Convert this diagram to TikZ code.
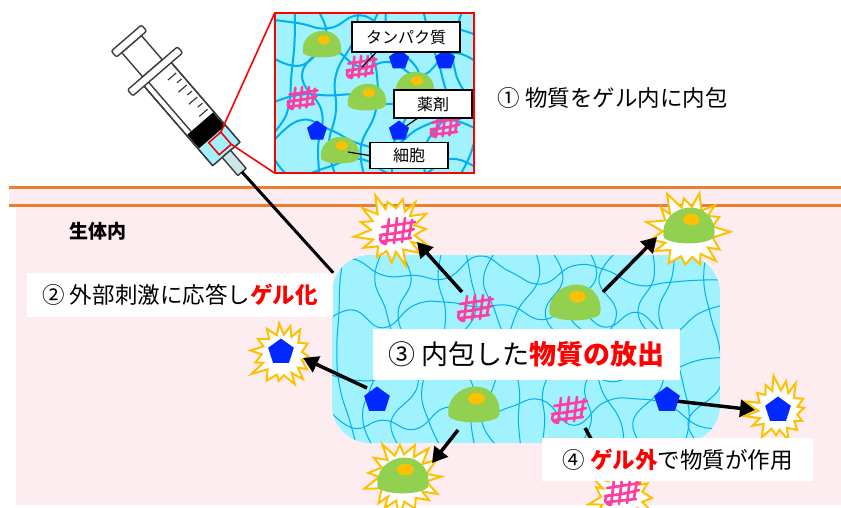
\documentclass[tikz,border=0pt]{standalone}
\usepackage{fontspec}
\setmainfont{Noto Sans CJK JP}
\usetikzlibrary{arrows.meta,shapes.geometric}
\definecolor{skinline}{RGB}{237,125,49}
\definecolor{bodypink}{RGB}{253,236,240}
\definecolor{gelcyan}{RGB}{160,242,255}
\definecolor{fibreblue}{RGB}{0,176,240}
\definecolor{cellgreen}{RGB}{146,208,80}
\definecolor{nucleus}{RGB}{255,192,0}
\definecolor{protpink}{RGB}{255,60,160}
\definecolor{drugblue}{RGB}{0,40,255}
\definecolor{flash}{RGB}{255,192,0}
\definecolor{hubgrey}{RGB}{205,228,232}
\definecolor{steel}{RGB}{60,60,60}
\definecolor{alert}{RGB}{255,0,0}

\begin{document}
\begin{tikzpicture}[x=1pt,y=-1pt,
  fiber/.style={fibreblue,line width=1pt},
  release/.style={line width=3.5pt,-{Triangle[length=15pt,width=17pt]}},
  drug/.style={regular polygon,regular polygon sides=5,fill=drugblue,inner sep=0pt,minimum size=27pt},
  banner/.style={fill=white,inner sep=0pt,font=\fontsize{22.5}{26}\selectfont},
  namebox/.style={draw,fill=white,line width=1.2pt,inner sep=0pt,font=\fontsize{16}{18}\selectfont},
  syr/.style={draw=steel,line width=1.4pt,fill=white,line join=round},
  lensline/.style={red,line width=1.6pt},
  cell/.pic={
    \fill[cellgreen] (-21,8) .. controls (-24,-6) and (-12,-17) .. (1,-17)
      .. controls (15,-17) and (23,-6) .. (21,7) .. controls (18,14) and (-14,15) .. (-21,8) -- cycle;
    \fill[nucleus] (2,-7) ellipse [x radius=7,y radius=4.8];},
  protein/.pic={
    \draw[protpink,line width=2.6pt,line cap=round,line join=round]
      (-16,-4) -- (17,-9) (-18,4) .. controls (-6,3) and (6,1) .. (16,-2) (-15,10) -- (13,7)
      (-9,-12) -- (-12,13) (-1,-13) -- (-4,12) (7,-13) -- (4,11) (14,-11) -- (11,6)
      (-12,13) .. controls (-19,12) and (-20,6) .. (-14,3);},
  burst/.pic={
    \filldraw[fill=white,draw=flash,line width=2pt]
      plot[samples=30,domain=0:29,variable=\q]
      ({\q*12+4*rand}:{#1*(0.7+0.15*cos(180*\q)+(1+cos(180*\q))*0.075*rand)}) -- cycle;}
]
\pgfmathsetseed{11}
\useasboundingbox (0,0) rectangle (841,507);

\fill[bodypink] (9,187) rectangle (841,205);
\fill[bodypink] (16,205) rectangle (841,505);
\draw[skinline,line width=3pt] (9,187) -- (841,187) (9,205) -- (841,205);

\begin{scope}
  \clip[rounded corners=38] (332,255) rectangle (720,443);
  \fill[gelcyan] (332,255) rectangle (720,443);
  \foreach \x in {346,376,...,716}
    \draw[fiber] plot[smooth,tension=0.8,variable=\t,domain=240:460,samples=7] ({\x+18*rand},\t);
  \foreach \y in {270,318,...,440}
    \draw[fiber] plot[smooth,tension=0.8,variable=\t,domain=320:732,samples=14] (\t,{\y+16*rand});
\end{scope}

\coordinate (protA) at (476,308);
\coordinate (cellB) at (575,305);
\coordinate (cellC) at (474,407);
\coordinate (protD) at (570,410);
\coordinate (siteE) at (377,400);
\coordinate (siteF) at (667,400);
\coordinate (outTL) at (393,230);
\coordinate (outTR) at (688,232);
\coordinate (outL) at (282,355);
\coordinate (outR) at (778,410);
\coordinate (outBL) at (403,478);
\coordinate (outB) at (622,497);

\pic at (outTL) {burst=40};
\pic at (outTR) {burst=46};
\pic at (outL) {burst=37};
\pic at (outR) {burst=36};
\pic at (outBL) {burst=43};
\pic at (outB) {burst=38};

\draw[release] ([shift={(-14,-16)}]protA) -- ([shift={(24,12)}]outTL);
\draw[release] ([shift={(28,-13)}]cellB) -- ([shift={(-31,5)}]outTR);
\draw[release] ([shift={(-10,-12)}]siteE) -- ([shift={(21,3)}]outL);
\draw[release] (siteF) -- ([shift={(-23,0)}]outR);
\draw[release] ([shift={(-16,23)}]cellC) -- ([shift={(29,-15)}]outBL);
\draw[release] ([shift={(15,18)}]protD) -- ([shift={(-18,-35)}]outB);

\pic at (protA) {protein};
\pic[scale=1.2] at (cellB) {cell};
\pic[scale=1.2] at (cellC) {cell};
\pic at (protD) {protein};
\node[drug] (drugE) at (siteE) {};
\node[drug] (drugF) at (siteF) {};
\pic at ([shift={(5,1)}]outTL) {protein};
\pic[scale=1.2] at ([shift={(1,-4)}]outTR) {cell};
\node[drug] (drugL) at ([shift={(-1,-3)}]outL) {};
\node[drug] (drugR) at (outR) {};
\pic[scale=1.2] at (outBL) {cell};
\pic at ([shift={(1,-5)}]outB) {protein};

\node[font=\fontsize{19}{21}\selectfont\bfseries] (lblBody) at (98,231) {生体内};
\node[banner,minimum width=306pt,minimum height=44pt] (lblGel) at (180,295)
  {② 外部刺激に応答し{\color{alert}\bfseries ゲル化}};
\node[banner,minimum width=307pt,minimum height=51pt,font=\fontsize{27}{31}\selectfont] (lblRel) at (526.5,354.5)
  {③ 内包した{\color{alert}\bfseries 物質の放出}};
\node[banner,minimum width=271pt,minimum height=43pt] (lblAct) at (677.5,459.5)
  {④ {\color{alert}\bfseries ゲル外}で物質が作用};

\begin{scope}[shift={(242,172)},rotate=130.8]
  \draw[syr] (137,-13) rectangle (169,13);
  \draw[syr,rounded corners=2pt] (169,-20) rectangle (177,20);
  \draw[syr] (24,-18) rectangle (131,18);
  \fill[gelcyan] (24,-17) rectangle (46,17);
  \fill[black] (46,-17) rectangle (64,17);
  \draw[steel,line width=1.4pt] (64,-12) -- (131,-12);
  \foreach \u/\w in {70/4,78/9,86/4,94/9,102/4,110/9,118/4}
    \draw[steel,line width=1.2pt] (\u,15) -- (\u,\w);
  \draw[syr,fill=none] (24,-18) rectangle (131,18);
  \draw[syr,rounded corners=2pt] (129,-33) rectangle (137,33);
  \draw[syr,fill=hubgrey] (0,-5.5) rectangle (24,5.5);
  \draw[lensline] (28,-6) rectangle (44,10);
  \coordinate (tip) at (0,0);
  \coordinate (lensA) at (44,10);
  \coordinate (lensB) at (28,10);
\end{scope}

\node[fill=gelcyan,minimum width=199pt,minimum height=160pt,inner sep=0pt] (zoom) at (374.5,93) {};
\begin{scope}
  \clip (zoom.north west) rectangle (zoom.south east);
  \foreach \x in {284,314,...,470}
    \draw[fiber,line width=2pt] plot[smooth,tension=0.8,variable=\t,domain=0:186,samples=6] ({\x+16*rand},\t);
  \foreach \y in {26,62,...,170}
    \draw[fiber,line width=2pt] plot[smooth,tension=0.8,variable=\t,domain=268:482,samples=8] (\t,{\y+14*rand});
\end{scope}
\draw[red,line width=1.8pt] (zoom.north west) rectangle (zoom.south east);
\draw[lensline] (lensA) -- (zoom.north west) (lensB) -- (zoom.south west);

\coordinate (ic1) at (322,46);
\coordinate (ic2) at (367,99);
\coordinate (ic3) at (415,87);
\coordinate (ic4) at (340,152);
\coordinate (ip1) at (362,67);
\coordinate (ip2) at (303,98);
\coordinate (ip3) at (446,126);
\foreach \c in {ic1,ic2,ic3,ic4} \pic[scale=0.9] at (\c) {cell};
\foreach \p in {ip1,ip2,ip3} \pic[scale=0.85] at (\p) {protein};
\node[drug,minimum size=21pt] (id1) at (399,60) {};
\node[drug,minimum size=21pt] (id2) at (445,60) {};
\node[drug,minimum size=21pt] (id3) at (317,131) {};
\node[drug,minimum size=21pt] (id4) at (399,131) {};

\node[namebox,minimum width=108pt,minimum height=30pt] (lblProt) at (406,37) {タンパク質};
\node[namebox,minimum width=78pt,minimum height=28pt] (lblDrug) at (433,104) {薬剤};
\node[namebox,minimum width=78pt,minimum height=26pt] (lblCell) at (409,155.5) {細胞};
\draw[line width=1.2pt] ([xshift=-30pt]lblProt.south) -- (ip1);
\draw[line width=1.2pt] ([xshift=-16pt]lblDrug.south) -- (id4);
\draw[line width=1.2pt] (lblCell.west) -- ([xshift=8pt]ic4);

\node[font=\fontsize{22.5}{26}\selectfont] (lblLoad) at (612.5,98) {① 物質をゲル内に内包};

\draw[line width=3pt] (tip) -- (lblGel.north east);
\end{tikzpicture}
\end{document}
